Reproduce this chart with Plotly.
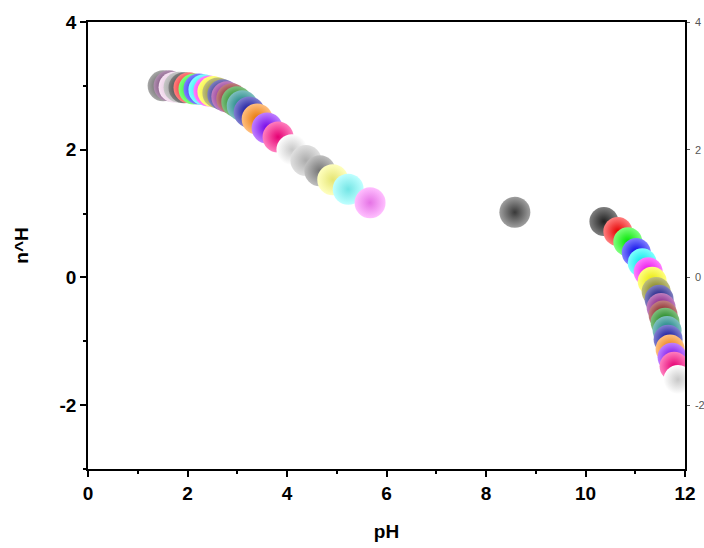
import plotly.graph_objects as go

# ---- data ----
ph_acid = [1.51, 1.63, 1.73, 1.83, 1.93, 2.03, 2.13, 2.23, 2.33, 2.43, 2.51, 2.61, 2.71,
           2.79, 2.89, 2.99, 3.10, 3.24, 3.40, 3.60, 3.82, 4.10, 4.38, 4.66, 4.92, 5.23, 5.67]
nh_acid = [3.00, 3.00, 2.98, 2.98, 2.97, 2.97, 2.95, 2.95, 2.94, 2.92, 2.91, 2.89, 2.86,
           2.83, 2.80, 2.75, 2.69, 2.59, 2.48, 2.34, 2.20, 2.00, 1.83, 1.67, 1.53, 1.38, 1.17]
ph_mid = [8.58]
nh_mid = [1.02]
ph_base = [10.37, 10.65, 10.85, 11.02, 11.14, 11.26, 11.34, 11.42, 11.48, 11.52, 11.56,
           11.60, 11.64, 11.66, 11.70, 11.74, 11.78, 11.86]
nh_base = [0.875, 0.72, 0.56, 0.39, 0.23, 0.09, -0.06, -0.22, -0.34, -0.47, -0.59,
           -0.70, -0.83, -0.97, -1.12, -1.25, -1.39, -1.60]

x_ticks = [0, 2, 4, 6, 8, 10, 12]
y_ticks = [-2, 0, 2, 4]

# ---- styles ----
cycle = ["#000000", "#FF0000", "#00FF00", "#0000FF", "#00FFFF", "#FF00FF", "#FFFF00",
         "#808000", "#000080", "#800080", "#800000", "#008000", "#008080", "#0000A0",
         "#FF8000", "#8000FF", "#FF0080", "#FFFFFF", "#C0C0C0", "#808080", "#FFFF80",
         "#80FFFF", "#FF80FF", "#404040"]
acid_colors = ["#505050", "#602060", "#F0C8E8", "#909090"] + cycle[:23]
mid_colors = [cycle[23]]
base_colors = cycle[:18]


def tint(h, f):
    h = h.lstrip("#")
    r, g, b = int(h[0:2], 16), int(h[2:4], 16), int(h[4:6], 16)
    r = int(r + (255 - r) * f); g = int(g + (255 - g) * f); b = int(b + (255 - b) * f)
    return "#%02X%02X%02X" % (r, g, b)


def shade(h, f):
    h = h.lstrip("#")
    r, g, b = int(h[0:2], 16), int(h[2:4], 16), int(h[4:6], 16)
    return "#%02X%02X%02X" % (int(r * f), int(g * f), int(b * f))


def edge(c):
    if c.upper() == "#FFFFFF":
        return "#C8C8C8"
    if c.upper() == "#000000":
        return "#202020"
    return shade(c, 0.9)


fig = go.Figure()
for xs, ys, cols, sz in [(ph_acid, nh_acid, acid_colors, 31),
                         (ph_mid, nh_mid, mid_colors, 31),
                         (ph_base, nh_base, base_colors, 29)]:
    fig.add_trace(go.Scatter(
        x=xs, y=ys, mode="markers", showlegend=False,
        marker=dict(size=sz, color=[tint(c, 0.5) for c in cols],
                    gradient=dict(type="radial", color=[edge(c) for c in cols]),
                    line=dict(width=0))))

fig.add_trace(go.Scatter(x=[None], y=[None], yaxis="y2", showlegend=False))

axis_font = dict(family="Liberation Sans, Arial", size=19, color="black", weight="bold")

fig.update_layout(
    width=704, height=548, autosize=False,
    margin=dict(l=88, r=19, t=22, b=79, autoexpand=False),
    paper_bgcolor="white", plot_bgcolor="white",
    font=dict(family="Liberation Sans, Arial", color="black"),
    xaxis=dict(range=[0, 12], tickvals=x_ticks, ticktext=[str(v) for v in x_ticks],
               showline=True, linecolor="black", linewidth=1.5, mirror=True,
               ticks="outside", ticklen=6, tickwidth=1.5, tickcolor="black",
               minor=dict(dtick=1, tick0=0, ticks="outside", ticklen=3, tickwidth=1.5,
                          tickcolor="black"),
               showgrid=False, zeroline=False, tickfont=axis_font, automargin=False,
               title=dict(text="pH", font=axis_font, standoff=22)),
    yaxis=dict(range=[-3, 4], tickvals=y_ticks, ticktext=[str(v) for v in y_ticks],
               showline=True, linecolor="black", linewidth=1.5, mirror=False,
               ticks="outside", ticklen=6, tickwidth=1.5, tickcolor="black",
               minor=dict(dtick=1, tick0=0, ticks="outside", ticklen=3, tickwidth=1.5,
                          tickcolor="black"),
               showgrid=False, zeroline=False, tickfont=axis_font, automargin=False,
               title=dict(text="n^H", font=axis_font, standoff=26)),
    yaxis2=dict(range=[-3, 4], overlaying="y", side="right", tickvals=y_ticks,
                ticktext=[str(v) for v in y_ticks],
                showline=True, linecolor="black", linewidth=1.5,
                ticks="outside", ticklen=3, tickwidth=1, tickcolor="#555",
                ticklabelstandoff=3, automargin=False,
                showgrid=False, zeroline=False,
                tickfont=dict(family="Liberation Sans, Arial", size=11, color="#555")),
)

fig.write_html(
    "out.html",
    config={"displayModeBar": False},
    post_script="document.body.style.margin='0';document.body.style.overflow='hidden';"
                "Plotly.relayout('{plot_id}', {width: 704, height: 548});")
